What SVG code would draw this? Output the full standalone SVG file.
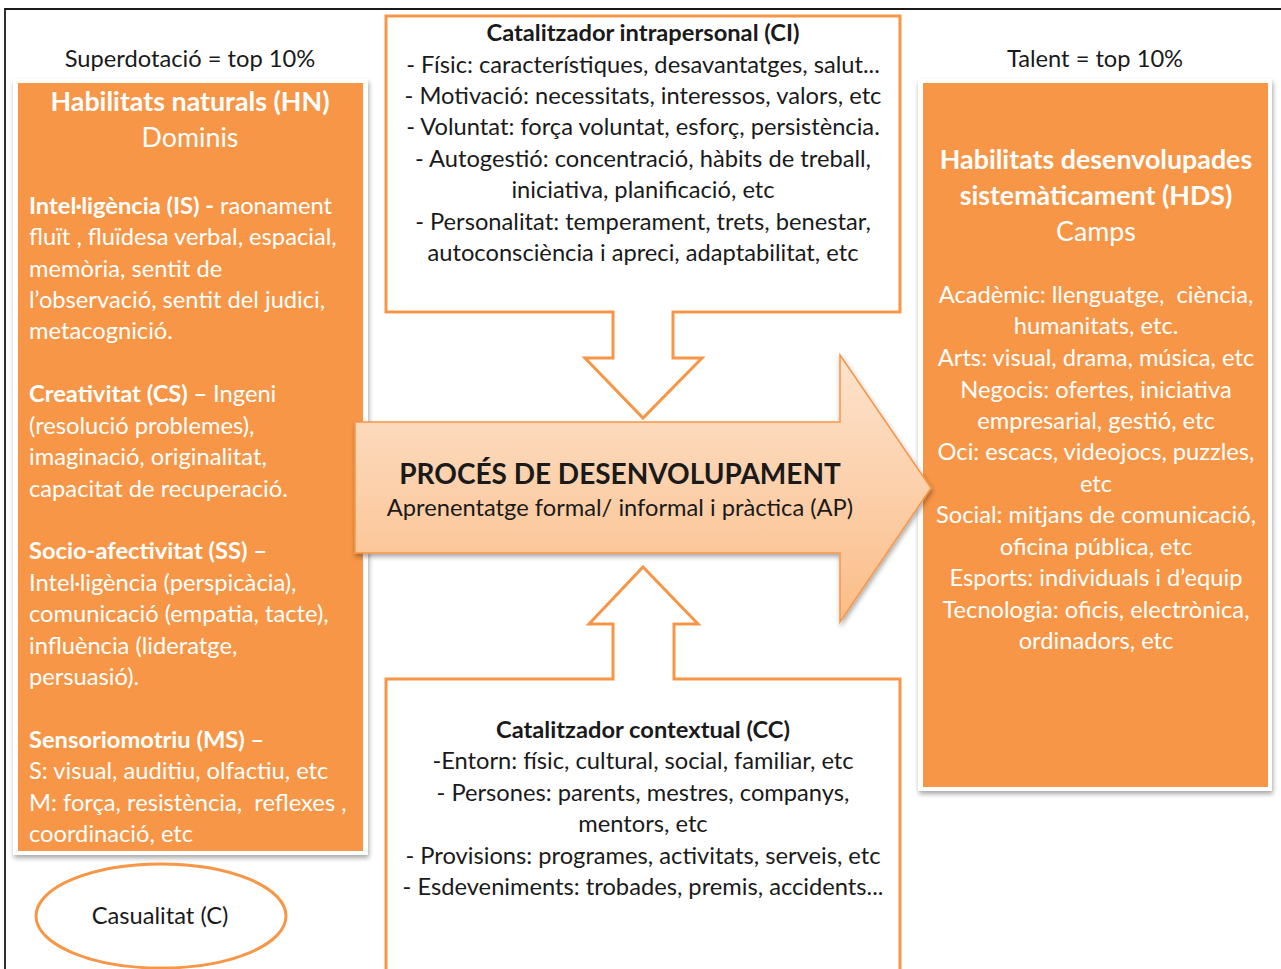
<svg xmlns="http://www.w3.org/2000/svg" width="1281" height="969" viewBox="0 0 1281 969">
  <style>
    text { font-family: Lato, "Liberation Sans", sans-serif; font-size: 23.7px; }
    .w { fill: #ffffff; }
    .k { fill: #1a1a1a; }
    .c { text-anchor: middle; }
    .b { font-weight: bold; }
    .ttl { font-size: 26.8px; }
    .callout { fill: #ffffff; stroke: #f79646; stroke-width: 3; }
  </style>
  <defs>
    <filter id="soft" x="-10%" y="-10%" width="120%" height="120%">
      <feGaussianBlur in="SourceAlpha" stdDeviation="2.5"/>
      <feOffset dx="1" dy="3" result="b"/>
      <feComponentTransfer><feFuncA type="linear" slope="0.35"/></feComponentTransfer>
      <feMerge><feMergeNode/><feMergeNode in="SourceGraphic"/></feMerge>
    </filter>
    <linearGradient id="arrowFill" x1="0" y1="0" x2="0" y2="1">
      <stop offset="0" stop-color="#fde3cd"/>
      <stop offset="1" stop-color="#fbbd88"/>
    </linearGradient>
  </defs>

  <rect width="1281" height="969" fill="#ffffff"/>
  <!-- page frame -->
  <path d="M5,975 V9 H1290" fill="none" stroke="#1a1a1a" stroke-width="1.8"/>

  <text class="k c" x="190" y="67">Superdotació = top 10%</text>
  <text class="k c" x="1095" y="67">Talent = top 10%</text>

  <!-- natural abilities -->
  <g id="hn">
    <rect x="13" y="79" width="355" height="776" fill="#ffffff" filter="url(#soft)"/>
    <rect x="18" y="83" width="345" height="768" fill="#f79646"/>
    <text class="w c b ttl" x="190" y="111">Habilitats naturals (HN)</text>
    <text class="w c ttl" x="190" y="147">Dominis</text>
    <text class="w" x="29" y="214"><tspan class="b">Intel·ligència (IS) - </tspan>raonament</text>
    <text class="w" x="29" y="245">fluït , fluïdesa verbal, espacial,</text>
    <text class="w" x="29" y="277">memòria, sentit de</text>
    <text class="w" x="29" y="308">l’observació, sentit del judici,</text>
    <text class="w" x="29" y="339">metacognició.</text>
    <text class="w" x="29" y="402"><tspan class="b">Creativitat (CS) – </tspan>Ingeni</text>
    <text class="w" x="29" y="434">(resolució problemes),</text>
    <text class="w" x="29" y="465">imaginació, originalitat,</text>
    <text class="w" x="29" y="497">capacitat de recuperació.</text>
    <text class="w b" x="29" y="559">Socio-afectivitat (SS) –</text>
    <text class="w" x="29" y="591">Intel·ligència (perspicàcia),</text>
    <text class="w" x="29" y="622">comunicació (empatia, tacte),</text>
    <text class="w" x="29" y="654">influència (lideratge,</text>
    <text class="w" x="29" y="685">persuasió).</text>
    <text class="w b" x="29" y="748">Sensoriomotriu (MS) –</text>
    <text class="w" x="29" y="779">S: visual, auditiu, olfactiu, etc</text>
    <text class="w" x="29" y="811">M: força, resistència,&#160; reflexes ,</text>
    <text class="w" x="29" y="842">coordinació, etc</text>
  </g>

  <!-- systematically developed abilities -->
  <g id="hds">
    <rect x="918" y="79" width="354" height="712" fill="#ffffff" filter="url(#soft)"/>
    <rect x="923" y="83" width="345" height="704" fill="#f79646"/>
    <text class="w c b ttl" x="1096" y="169">Habilitats desenvolupades</text>
    <text class="w c b ttl" x="1096" y="205">sistemàticament (HDS)</text>
    <text class="w c ttl" x="1096" y="241">Camps</text>
    <text class="w c" x="1096" y="303">Acadèmic: llenguatge,&#160; ciència,</text>
    <text class="w c" x="1096" y="334">humanitats, etc.</text>
    <text class="w c" x="1096" y="366">Arts: visual, drama, música, etc</text>
    <text class="w c" x="1096" y="398">Negocis: ofertes, iniciativa</text>
    <text class="w c" x="1096" y="429">empresarial, gestió, etc</text>
    <text class="w c" x="1096" y="460">Oci: escacs, videojocs, puzzles,</text>
    <text class="w c" x="1096" y="492">etc</text>
    <text class="w c" x="1096" y="523">Social: mitjans de comunicació,</text>
    <text class="w c" x="1096" y="555">oficina pública, etc</text>
    <text class="w c" x="1096" y="586">Esports: individuals i d’equip</text>
    <text class="w c" x="1096" y="618">Tecnologia: oficis, electrònica,</text>
    <text class="w c" x="1096" y="649">ordinadors, etc</text>
  </g>

  <!-- intrapersonal catalyst -->
  <g id="ci">
    <path class="callout" d="M386,16 H900 V312 H673 V358 H702 L643,418 L585,358 H613 V312 H386 Z"/>
    <text class="k c b" x="643" y="41">Catalitzador intrapersonal (CI)</text>
    <text class="k c" x="643" y="73">- Físic: característiques, desavantatges, salut...</text>
    <text class="k c" x="643" y="104">- Motivació: necessitats, interessos, valors, etc</text>
    <text class="k c" x="643" y="135">- Voluntat: força voluntat, esforç, persistència.</text>
    <text class="k c" x="643" y="167">- Autogestió: concentració, hàbits de treball,</text>
    <text class="k c" x="643" y="198">iniciativa, planificació, etc</text>
    <text class="k c" x="643" y="230">- Personalitat: temperament, trets, benestar,</text>
    <text class="k c" x="643" y="261">autoconsciència i apreci, adaptabilitat, etc</text>
  </g>

  <!-- contextual catalyst -->
  <g id="cc">
    <path class="callout" d="M386,679 H613 V624 H589 L643,567 L698,624 H674 V679 H900 V980 H386 Z"/>
    <text class="k c b" x="643" y="738">Catalitzador contextual (CC)</text>
    <text class="k c" x="643" y="769">-Entorn: físic, cultural, social, familiar, etc</text>
    <text class="k c" x="643" y="801">- Persones: parents, mestres, companys,</text>
    <text class="k c" x="643" y="832">mentors, etc</text>
    <text class="k c" x="643" y="864">- Provisions: programes, activitats, serveis, etc</text>
    <text class="k c" x="643" y="895">- Esdeveniments: trobades, premis, accidents...</text>
  </g>

  <!-- development process -->
  <g id="process">
    <path d="M355,422 H840 V355 L931,488 L840,622 V553 H355 Z" fill="url(#arrowFill)" stroke="#f79646" stroke-width="1.5" filter="url(#soft)"/>
    <text class="k c b" x="620" y="484" style="font-size:28px">PROCÉS DE DESENVOLUPAMENT</text>
    <text class="k c" x="620" y="516">Aprenentatge formal/ informal i pràctica (AP)</text>
  </g>

  <!-- chance -->
  <g id="chance">
    <ellipse cx="161" cy="916" rx="125" ry="52" fill="#ffffff" stroke="#f79646" stroke-width="3"/>
    <text class="k c" x="160" y="924">Casualitat (C)</text>
  </g>
</svg>
